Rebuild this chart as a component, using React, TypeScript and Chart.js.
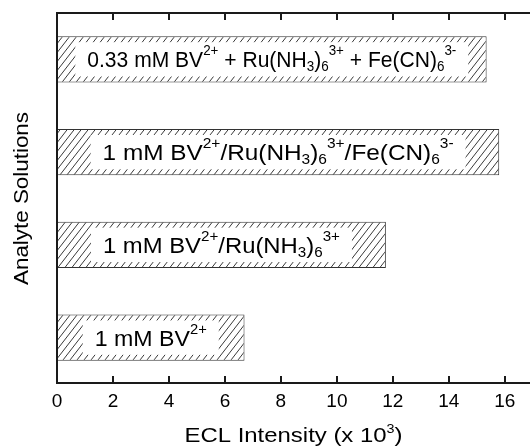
import React, { useEffect, useRef } from 'react';
import { Chart, registerables } from 'chart.js';

Chart.register(...registerables);

// ---- data ----
const categories: string[] = [
  '0.33 mM BV^{2+} + Ru(NH_{3})_{6}^{3+} + Fe(CN)_{6}^{3-}',
  '1 mM BV^{2+}/Ru(NH_{3})_{6}^{3+}/Fe(CN)_{6}^{3-}',
  '1 mM BV^{2+}/Ru(NH_{3})_{6}^{3+}',
  '1 mM BV^{2+}',
];
const values: number[] = [15.35, 15.8, 11.75, 6.7];
const xTickValues: number[] = [0, 2, 4, 6, 8, 10, 12, 14, 16];
const xMin = 0;
const xMax = 16.9;
const xTitle = 'ECL Intensity (x 10^{3})';
const yTitle = 'Analyte Solutions';

// ---- styles ----
const FONT = "'Liberation Sans', Arial, sans-serif";
const labelWidths = [369, 351, 237, 112];
const INK = '#000';
const LINE = '#1a1a1a';
const HATCH = '#3a3a3a';

type Seg = { t: string; k: 'n' | 'sup' | 'sub'; w?: number };

function parseSegs(s: string): Seg[] {
  const out: Seg[] = [];
  const re = /([\^_])\{([^}]*)\}|([^\^_]+)/g;
  let m: RegExpExecArray | null;
  while ((m = re.exec(s))) {
    if (m[3]) out.push({ t: m[3], k: 'n' });
    else out.push({ t: m[2], k: m[1] === '^' ? 'sup' : 'sub' });
  }
  return out;
}

function drawRich(
  ctx: CanvasRenderingContext2D,
  text: string,
  main: number,
  script: number,
  raise: number,
  lower: number,
  targetWidth: number
) {
  const segs = parseSegs(text);
  let w = 0;
  for (const p of segs) {
    ctx.font = `${p.k === 'n' ? main : script}px ${FONT}`;
    p.w = ctx.measureText(p.t).width;
    w += p.w;
  }
  const sx = targetWidth / w;
  ctx.save();
  ctx.translate(-targetWidth / 2, 0);
  ctx.scale(sx, 1);
  ctx.textAlign = 'left';
  ctx.textBaseline = 'alphabetic';
  let x = 0;
  for (const p of segs) {
    ctx.font = `${p.k === 'n' ? main : script}px ${FONT}`;
    const dy = p.k === 'sup' ? -raise : p.k === 'sub' ? lower : 0;
    ctx.fillText(p.t, x, dy);
    x += p.w as number;
  }
  ctx.restore();
}

function makeHatch(): CanvasPattern | string {
  const c = document.createElement('canvas');
  const w = 7;
  const h = 9;
  c.width = w;
  c.height = h;
  const g = c.getContext('2d');
  if (!g) return '#fff';
  g.fillStyle = '#fff';
  g.fillRect(0, 0, w, h);
  g.strokeStyle = HATCH;
  g.lineWidth = 1;
  g.beginPath();
  g.moveTo(0, h);
  g.lineTo(w, 0);
  g.moveTo(-w, h);
  g.lineTo(0, 0);
  g.moveTo(w, h);
  g.lineTo(2 * w, 0);
  g.stroke();
  const p = g.createPattern(c, 'repeat');
  return p || '#fff';
}

const decorPlugin = {
  id: 'decor',
  afterDatasetsDraw(chart: any) {
    const ctx: CanvasRenderingContext2D = chart.ctx;
    const meta = chart.getDatasetMeta(0);
    meta.data.forEach((el: any, i: number) => {
      const { x, y, base, height } = el.getProps(['x', 'y', 'base', 'height'], true);
      const cx = (x + base) / 2;
      const tw = labelWidths[i];
      const pad = 12;
      const inset = 6;
      ctx.save();
      ctx.fillStyle = '#fff';
      ctx.fillRect(cx - tw / 2 - pad, y - height / 2 + inset, tw + 2 * pad, height - 2 * inset);
      ctx.fillStyle = INK;
      ctx.translate(cx, y + 8);
      drawRich(ctx, categories[i], 22, 14, 12, 4, tw);
      ctx.restore();
    });
  },
  afterDraw(chart: any) {
    const ctx: CanvasRenderingContext2D = chart.ctx;
    const { left, right, top, bottom } = chart.chartArea;
    const xs = chart.scales.x;
    const W = chart.width;
    const axisY = bottom - 1;
    ctx.save();
    ctx.strokeStyle = LINE;
    ctx.lineWidth = 2;
    ctx.beginPath();
    ctx.moveTo(left, top - 1);
    ctx.lineTo(left, axisY + 1);
    ctx.moveTo(left - 1, top);
    ctx.lineTo(W, top);
    ctx.moveTo(left - 1, axisY);
    ctx.lineTo(Math.max(right, W), axisY);
    ctx.stroke();
    ctx.beginPath();
    xs.ticks.forEach((t: any) => {
      const px = Math.round(xs.getPixelForValue(t.value));
      if (px <= left + 1) return;
      ctx.moveTo(px, axisY);
      ctx.lineTo(px, axisY - 7);
      ctx.moveTo(px, top);
      ctx.lineTo(px, top + 7);
    });
    ctx.stroke();

    // axis titles
    ctx.fillStyle = INK;
    ctx.save();
    ctx.translate((left + right) / 2, 442);
    drawRich(ctx, xTitle, 20, 12, 9, 0, 218);
    ctx.restore();

    ctx.save();
    ctx.translate(28.3, (top + bottom) / 2);
    ctx.rotate(-Math.PI / 2);
    drawRich(ctx, yTitle, 20, 12, 9, 0, 173);
    ctx.restore();
    ctx.restore();
  },
};

export default function App() {
  const ref = useRef<HTMLCanvasElement | null>(null);
  useEffect(() => {
    document.body.style.margin = '0';
    const canvas = ref.current;
    if (!canvas) return;
    const hatch = makeHatch();
    const chart = new Chart(canvas, {
      type: 'bar',
      data: {
        labels: categories,
        datasets: [
          {
            data: values,
            backgroundColor: hatch as any,
            borderColor: '#333',
            borderWidth: 1,
            borderSkipped: false,
            barPercentage: 0.5,
            categoryPercentage: 1,
          },
        ],
      },
      options: {
        indexAxis: 'y',
        animation: false,
        responsive: false,
        devicePixelRatio: 1,
        layout: { padding: { top: 13, left: 0, right: 0, bottom: 0 } },
        plugins: {
          legend: { display: false },
          tooltip: { enabled: false },
        },
        scales: {
          x: {
            type: 'linear',
            min: xMin,
            max: xMax,
            afterBuildTicks: (s: any) => {
              s.ticks = xTickValues.map((v) => ({ value: v }));
            },
            afterFit: (s: any) => {
              s.height = 63;
            },
            grid: { display: false, drawTicks: false },
            border: { display: false },
            ticks: {
              padding: 6,
              color: INK,
              font: { family: FONT, size: 19 },
              maxRotation: 0,
              autoSkip: false,
            },
          },
          y: {
            type: 'category',
            afterFit: (s: any) => {
              s.width = 57;
            },
            grid: { display: false, drawTicks: false },
            border: { display: false },
            ticks: { display: false },
          },
        },
      },
      plugins: [decorPlugin],
    });
    return () => chart.destroy();
  }, []);
  return <canvas ref={ref} width={530} height={447} style={{ display: 'block' }} />;
}
